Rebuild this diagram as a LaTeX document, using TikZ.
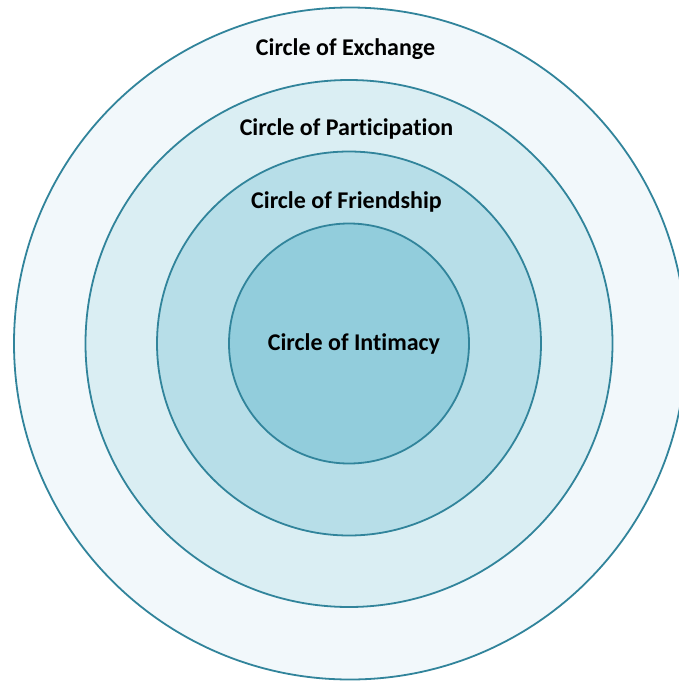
\documentclass[tikz,border=0pt]{standalone}
\usepackage{fontspec}
\setmainfont[Ligatures=NoCommon]{Carlito}
\definecolor{ringline}{HTML}{31849B}
\definecolor{fillA}{HTML}{F2F8FB}
\definecolor{fillB}{HTML}{DAEEF3}
\definecolor{fillC}{HTML}{B7DEE8}
\definecolor{fillD}{HTML}{92CDDC}
\tikzset{
  ring/.style={draw=ringline, line width=1.8pt},
  lbl/.style={font=\fontsize{24}{28}\selectfont\bfseries, inner sep=0pt, anchor=center}
}
\begin{document}
\begin{tikzpicture}[x=1pt,y=-1pt]
\useasboundingbox (0,0) rectangle (679,681);
\clip (0,0) rectangle (679,681);
\coordinate (c) at (349,343.5);
\coordinate (co) at (350,343.5);
\fill[white] (0,0) rectangle (679,681);
\node[ring, fill=fillA, circle, minimum size=672pt, inner sep=0pt] (exch) at (co) {};
\node[ring, fill=fillB, circle, minimum size=527pt, inner sep=0pt] (part) at (c) {};
\node[ring, fill=fillC, circle, minimum size=384pt, inner sep=0pt] (friend) at (c) {};
\node[ring, fill=fillD, circle, minimum size=240pt, inner sep=0pt] (intim) at (c) {};
\node[lbl] (t1) at (345.5,49) {Circle of Exchange};
\node[lbl] (t2) at (346.5,129) {Circle of Participation};
\node[lbl] (t3) at (346.5,202) {Circle of Friendship};
\node[lbl] (t4) at (354,344) {Circle of Intimacy};
\end{tikzpicture}
\end{document}
